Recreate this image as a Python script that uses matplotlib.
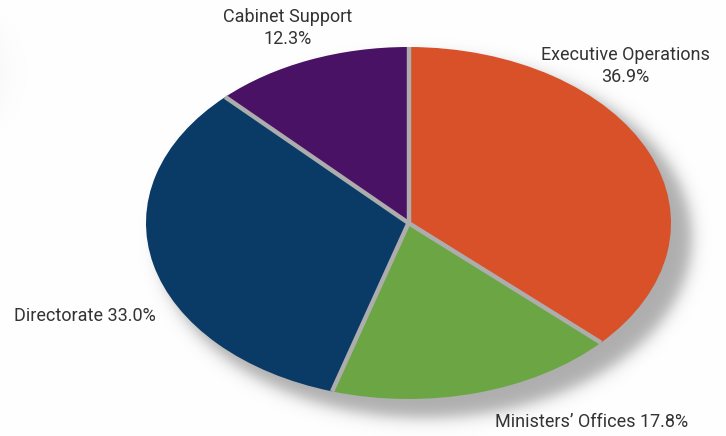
import numpy as np
import matplotlib
matplotlib.use("Agg")
import matplotlib.pyplot as plt

# budget split by unit
labels = ["Executive Operations", "Ministers\u2019 Offices", "Directorate", "Cabinet Support"]
shares = [36.9, 17.8, 33.0, 12.3]
colors = ["#D85129", "#6CA644", "#0A3A66", "#4A1264"]

W, H = 726, 436
plt.rcParams['font.family'] = ['Roboto', 'DejaVu Sans']

fig = plt.figure(figsize=(W / 100, H / 100), dpi=100)
fig.patch.set_facecolor("white")

# background layer in pixel coordinates, carries the soft drop shadow
ax_bg = fig.add_axes([0, 0, 1, 1])
ax_bg.set_xlim(0, W)
ax_bg.set_ylim(H, 0)
ax_bg.axis("off")

yy, xx = np.mgrid[0:H, 0:W] + 0.5

def soft_ellipse(cx, cy, rx, ry, soft):
    X, Y = xx - cx, yy - cy
    f = (X / rx) ** 2 + (Y / ry) ** 2
    g = np.hypot(2 * X / rx ** 2, 2 * Y / ry ** 2) + 1e-9
    s = (f - 1) / g
    return 1 / (1 + np.exp(np.clip(s / soft, -50, 50)))

shade = 0.72 * soft_ellipse(425, 238, 267, 180, 4.5)
shade = np.maximum(shade, 0.07 * soft_ellipse(-45, 72, 52, 58, 9))
grey = 0.56
img = 1 - shade * (1 - grey)
ax_bg.imshow(np.dstack([img, img, img]), extent=(0, W, H, 0), interpolation="bilinear", zorder=0)

# pie on its own axes, stretched to an ellipse
left, right, top, bottom = 146, 671, 47, 399
ax = fig.add_axes([left / W, 1 - bottom / H, (right - left) / W, (bottom - top) / H])
ax.patch.set_alpha(0)
wedges, _ = ax.pie(shares, colors=colors, startangle=90, counterclock=False,
                   radius=1, center=(0, 0), wedgeprops=dict(linewidth=0))
ax.set_xlim(-1, 1)
ax.set_ylim(-1, 1)
ax.set_aspect("auto")
ax.axis("off")

# grey separators between slices
cum = np.concatenate([[0], np.cumsum(shares)]) / sum(shares)
for c in cum[:-1]:
    t = np.deg2rad(90 - 360 * c)
    ax.plot([0, np.cos(t)], [0, np.sin(t)], color="#adadad", lw=3.2,
            solid_capstyle="butt", zorder=5)

tc = "#333333"
fs = 13
ax_bg.text(288, 28, f"{labels[3]}\n{shares[3]:.1f}%", ha="center", va="center",
           fontsize=fs, color=tc, linespacing=1.25)
ax_bg.text(625, 66, f"{labels[0]}\n{shares[0]:.1f}%", ha="center", va="center",
           fontsize=fs, color=tc, linespacing=1.25)
ax_bg.text(14, 316, f"{labels[2]} {shares[2]:.1f}%", ha="left", va="center",
           fontsize=fs, color=tc)
ax_bg.text(495, 422, f"{labels[1]} {shares[1]:.1f}%", ha="left", va="center",
           fontsize=fs, color=tc)

fig.savefig("out.png", dpi=100, facecolor="white")
